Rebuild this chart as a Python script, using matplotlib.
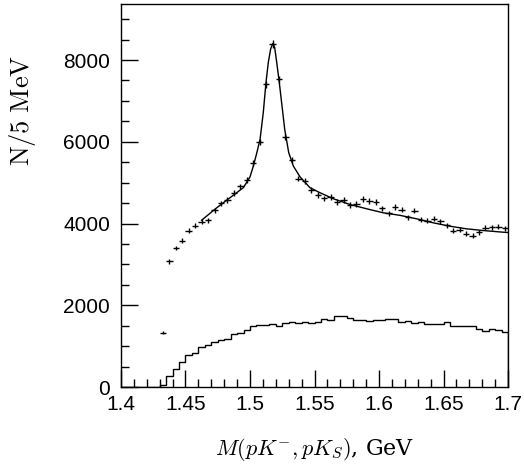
import numpy as np
import matplotlib
matplotlib.use("Agg")
import matplotlib.pyplot as plt
from matplotlib.ticker import MultipleLocator

plt.rcParams['mathtext.fontset'] = 'cm'
plt.rcParams['font.family'] = ['Liberation Sans', 'DejaVu Sans']

# 5 MeV bins from 1.40 to 1.70 GeV
edges = np.round(np.arange(1.400, 1.7001, 0.005), 4)

# data points (bin centres starting at 1.4325)
data_m = np.round(np.arange(1.4325, 1.7000, 0.005), 4)
data_n = [1325, 3075, 3404, 3583, 3828, 3943, 4049, 4081, 4319, 4491,
          4581, 4753, 4908, 5063, 5472, 5995, 7404, 8393, 7534, 6118,
          5546, 5100, 5050, 4815, 4695, 4614, 4646, 4532, 4572, 4450,
          4483, 4606, 4548, 4532, 4368, 4253, 4400, 4340, 4155, 4311,
          4098, 4066, 4115, 4057, 3958, 3828, 3853, 3747, 3706, 3787,
          3902, 3910, 3926, 3885]

# lower histogram
hist_n = [0, 0, 0, 0, 0, 10, 40, 262, 450, 622,
          777, 826, 990, 1031, 1104, 1153, 1178, 1292, 1325, 1399,
          1497, 1514, 1521, 1539, 1505, 1563, 1603, 1563, 1603, 1563,
          1603, 1669, 1644, 1742, 1750, 1701, 1636, 1644, 1620, 1644,
          1636, 1669, 1669, 1587, 1612, 1571, 1595, 1554, 1546, 1546,
          1587, 1505, 1505, 1505, 1489, 1416, 1374, 1431, 1391, 1350]

# fit curve
fit_m = [1.4625, 1.4742, 1.4845, 1.4948, 1.5000, 1.5026, 1.5052, 1.5078,
         1.5103, 1.5124, 1.5142, 1.5160, 1.5176, 1.5191, 1.5207, 1.5227,
         1.5248, 1.5269, 1.5300, 1.5336, 1.5388, 1.5465, 1.5543, 1.5646,
         1.5775, 1.5904, 1.6033, 1.6163, 1.6292, 1.6421, 1.6550, 1.6680,
         1.6810, 1.6965, 1.7000]
fit_n = [4081, 4385, 4631, 4876, 5140, 5407, 5720, 6061,
         6716, 7453, 7944, 8270, 8400, 8312, 7944, 7453,
         6879, 6307, 5735, 5406, 5140, 4876, 4753, 4606,
         4466, 4361, 4262, 4200, 4115, 4017, 3934, 3870,
         3828, 3787, 3780]

fig = plt.figure(figsize=(5.24, 4.72), dpi=100)
ax = fig.add_axes([0.2309, 0.180, 0.7386, 0.8115])

ax.stairs(hist_n, edges, color='black', lw=1.0)
ax.errorbar(data_m, data_n, xerr=0.0025, yerr=np.sqrt(data_n),
            fmt='none', ecolor='black', elinewidth=1.0)
ax.plot(fit_m, fit_n, color='black', lw=1.0)

ax.set_xlim(1.4, 1.7)
ax.set_ylim(0, 9370)
ax.xaxis.set_minor_locator(MultipleLocator(0.01))
ax.yaxis.set_major_locator(MultipleLocator(2000))
ax.yaxis.set_minor_locator(MultipleLocator(500))
ax.set_xticks([1.4, 1.45, 1.5, 1.55, 1.6, 1.65, 1.7])
ax.set_xticklabels(['1.4', '1.45', '1.5', '1.55', '1.6', '1.65', '1.7'])
ax.tick_params(which='major', direction='in', length=12, width=1, labelsize=15, pad=6)
ax.tick_params(which='minor', direction='in', length=6, width=1)
ax.tick_params(axis='y', which='major', pad=8)

for s in ax.spines.values():
    s.set_linewidth(1.0)

fig.text(0.043, 0.765, r'$\mathrm{N/5\ MeV}$', rotation=90,
         ha='center', va='center', fontsize=19)
fig.text(0.60, 0.047, r'$M(pK^{-}, pK_S)$, GeV', ha='center', va='center',
         fontsize=16, family='serif', math_fontfamily='cm')

fig.savefig('out.png', dpi=100)
